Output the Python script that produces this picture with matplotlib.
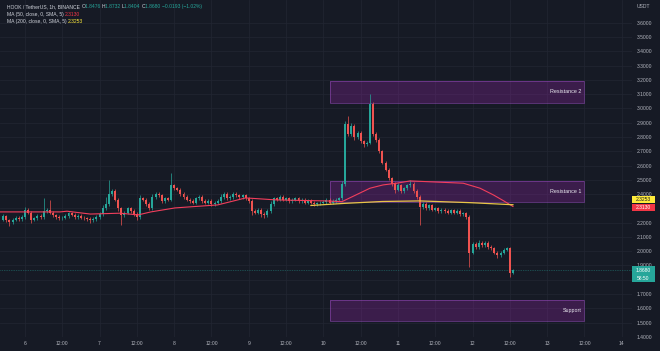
import matplotlib
matplotlib.use("Agg")
import matplotlib.pyplot as plt
from matplotlib.patches import Rectangle
from matplotlib.transforms import IdentityTransform
import numpy as np

# ---------------- data ----------------
W, H = 660, 351
start_hour = -7          # hours relative to day 6, 00:00 (1h candles)
first_open = 2.22
closes = [
    2.245, 2.215, 2.205, 2.22, 2.235, 2.225, 2.24,                     # day 5 17:00-23:00
    2.29, 2.27, 2.22, 2.23, 2.245, 2.24, 2.28, 2.29, 2.27, 2.25, 2.24, 2.23,
    2.235, 2.245, 2.265, 2.255, 2.24, 2.245, 2.235, 2.23, 2.225, 2.215, 2.225, 2.24,   # day 6
    2.26, 2.30, 2.33, 2.40, 2.42, 2.36, 2.30, 2.25, 2.27, 2.30, 2.28, 2.26,
    2.24, 2.37, 2.36, 2.33, 2.30, 2.38, 2.40, 2.39, 2.35, 2.37, 2.36, 2.46,            # day 7
    2.44, 2.43, 2.40, 2.38, 2.36, 2.35, 2.34, 2.37, 2.38, 2.35, 2.34, 2.35,
    2.33, 2.34, 2.35, 2.38, 2.40, 2.37, 2.38, 2.40, 2.39, 2.38, 2.39, 2.37,            # day 8
    2.35, 2.28, 2.27, 2.29, 2.26, 2.25, 2.28, 2.33, 2.37, 2.36, 2.38, 2.36,
    2.37, 2.35, 2.36, 2.37, 2.35, 2.36, 2.34, 2.35, 2.34, 2.33, 2.335, 2.34,           # day 9
    2.345, 2.36, 2.34, 2.35, 2.36, 2.37, 2.47, 2.89, 2.82, 2.88, 2.80, 2.83,
    2.77, 2.75, 2.76, 3.03, 2.82, 2.78, 2.70, 2.62, 2.57, 2.51, 2.47, 2.43,            # day 10
    2.46, 2.42, 2.44, 2.46, 2.47, 2.42, 2.38, 2.31, 2.33, 2.30, 2.32, 2.29,
    2.30, 2.28, 2.29, 2.28, 2.27, 2.285, 2.27, 2.28, 2.26, 2.265, 2.24, 1.99,          # day 11
    2.05, 2.03, 2.06, 2.04, 2.06, 2.03, 2.02, 1.99, 1.97, 1.99, 2.01, 2.02,
    1.8476, 1.868,                                                       # day 12
]
wick_default = 0.012
upper_wicks = {-6: 0.01, 0: 0.02, 6: 0.09, 8: 0.07, 25: 0.02, 26: 0.05, 27: 0.10,
               37: 0.02, 41: 0.02, 47: 0.09, 63: 0.02, 79: 0.02, 102: 0.02, 103: 0.02,
               104: 0.06, 105: 0.02, 111: 0.07, 120: 0.02, 124: 0.03, 146: 0.02,
               157: 0.0052}
lower_wicks = {-5: 0.03, 2: 0.02, 21: 0.015, 30: 0.02, 31: 0.07, 36: 0.02, 73: 0.03,
               76: 0.02, 77: 0.02, 106: 0.02, 109: 0.02, 119: 0.02, 127: 0.13,
               143: 0.10, 152: 0.02, 156: 0.025, 157: 0.0072}

ma50_hours = [-8, 11.3, 13.5, 21, 30.6, 36.4, 40.5, 48.3, 62, 71, 80.8, 96.8, 102,
              111, 115.2, 119.6, 123.9, 141, 146.4, 150.7, 153.9, 157]
ma50_vals = [2.275, 2.275, 2.28, 2.26, 2.266, 2.254, 2.275, 2.303, 2.324, 2.373, 2.359,
             2.352, 2.347, 2.441, 2.464, 2.476, 2.492, 2.476, 2.441, 2.394, 2.354, 2.313]
ma200_hours = [92, 103, 115, 127, 143, 157]
ma200_vals = [2.32, 2.335, 2.348, 2.352, 2.34, 2.3253]

zone_names = ["Resistance 2", "Resistance 1", "Support"]
zone_low = [3.04, 2.343, 1.512]
zone_high = [3.19, 2.492, 1.655]
zone_start, zone_end = 98, 180

price_ticks = [round(1.4 + 0.1 * i, 1) for i in range(23)]
hidden_price_labels = [1.8, 2.3]   # covered by the value badges on the price scale
day_numbers = ["6", "7", "8", "9", "10", "11", "12", "13", "14"]
header_pieces = [("HOOK / TetherUS, 1h, BINANCE ", "txt"), ("O", "txt"), ("1.8476 ", "up"),
                 ("H", "txt"), ("1.8732 ", "up"), ("L", "txt"), ("1.8404 ", "up"),
                 ("C", "txt"), ("1.8680 ", "up"), ("\u22120.0193 (\u22121.02%)", "up")]
ma50_title = "MA (50, close, 0, SMA, 5) "
ma200_title = "MA (200, close, 0, SMA, 5) "
countdown = "58:50"

# ---------------- style ----------------
BG = "#161a25"
GRID = "#222633"
TXT = "#b2b5be"
UP = "#26a69a"
DOWN = "#ef5350"
MA50_C = "#f23e5c"
MA200_C = "#e8c547"
YEL = "#ffeb3b"
FONT = "Liberation Sans"
FS = 3.6

plt.rcParams['font.family'] = [FONT, 'DejaVu Sans']

fig = plt.figure(figsize=(W / 100, H / 100), dpi=100, facecolor=BG)
ax = fig.add_axes([0, 14 / H, 632 / W, 337 / H], facecolor=BG)

closes_a = np.array(closes)
n = len(closes_a)
hours = np.arange(start_hour, start_hour + n)
opens_a = np.concatenate([[first_open], closes_a[:-1]])
highs = np.array([max(o, c) + upper_wicks.get(h, wick_default)
                  for h, o, c in zip(hours, opens_a, closes_a)])
lows = np.array([min(o, c) - lower_wicks.get(h, wick_default)
                 for h, o, c in zip(hours, opens_a, closes_a)])
colors = np.where(closes_a >= opens_a, UP, DOWN)

# zones
for name, lo, hi in zip(zone_names, zone_low, zone_high):
    ax.add_patch(Rectangle((zone_start, lo), zone_end - zone_start, hi - lo,
                           facecolor="#9c27b0", alpha=0.28, edgecolor="none", zorder=1))
    ax.add_patch(Rectangle((zone_start, lo), zone_end - zone_start, hi - lo,
                           facecolor="none", edgecolor="#9c4fc4", lw=0.5, alpha=0.7, zorder=1))
    ax.text(zone_end - 0.9, (lo + hi) / 2, name, ha="right", va="center",
            color="#ececf2", fontsize=FS + 0.3, zorder=6)

ax.vlines(hours, lows, highs, colors=colors, lw=0.5, zorder=3)
ax.bar(hours, np.maximum(np.abs(closes_a - opens_a), 0.004),
       bottom=np.minimum(opens_a, closes_a), width=0.64, color=colors, lw=0, zorder=4)

ax.plot(ma50_hours, ma50_vals, color=MA50_C, lw=0.8, zorder=5)
ax.plot(ma200_hours, ma200_vals, color=MA200_C, lw=0.9, zorder=5)

ax.axhline(closes_a[-1], color=UP, lw=0.5, ls=(0, (1, 1.5)), alpha=0.7, zorder=2)

ax.set_xlim(-8.04, 195.3)
ax.set_ylim(1.399, 3.759)

xt = list(range(0, 193, 12))
ax.set_xticks(xt)
ax.set_xticklabels([day_numbers[h // 24] if h % 24 == 0 else "12:00" for h in xt])
ax.set_yticks(price_ticks)
ax.set_yticklabels(["" if p in hidden_price_labels else f"{p:.4f}" for p in price_ticks])
ax.yaxis.tick_right()
ax.tick_params(axis="x", length=0, pad=2.6, labelsize=FS, colors=TXT)
ax.tick_params(axis="y", length=0, pad=3.6, labelsize=FS, colors=TXT)
for lab in ax.get_xticklabels() + ax.get_yticklabels():
    lab.set_clip_on(False)
ax.grid(True, color=GRID, lw=0.5, zorder=0)
ax.set_axisbelow(True)
for s in ax.spines.values():
    s.set_visible(False)

fig.text(637 / W, 1 - 7 / H, "USDT", color=TXT, fontsize=FS, ha="left", va="center")

# right-side value labels (display pixel coords)
def ypix(price):
    return ax.transData.transform((0, price))[1]

def label_box(price, text_lines, face, tcolor, dy=0.0, h=7.0):
    yc = ypix(price) + dy
    total = h * len(text_lines)
    fig.add_artist(Rectangle((632, yc - total / 2), 23, total, transform=IdentityTransform(),
                             facecolor=face, edgecolor="none", zorder=10))
    for i, t in enumerate(text_lines):
        yy = yc + total / 2 - h * (i + 0.5)
        fig.text(643.5 / W, yy / H, t, ha="center", va="center", color=tcolor,
                 fontsize=FS, zorder=11)

label_box(ma200_vals[-1], [f"{ma200_vals[-1]:.4f}"], YEL, "#131722", dy=5.6)
label_box(ma50_vals[-1], [f"{ma50_vals[-1]:.4f}"], "#f23645", "#ffffff", dy=-1.0)
label_box(closes_a[-1], [f"{closes_a[-1]:.4f}", countdown], UP, "#ffffff", dy=-4.0, h=8.0)

# header legend
renderer = fig.canvas.get_renderer()
def draw_pieces(pieces, x, y):
    for text, role in pieces:
        col = {"txt": "#d1d4dc", "up": UP, "red": "#f23645", "yel": YEL}[role]
        t = fig.text(x / W, 1 - y / H, text, color=col, fontsize=FS, ha="left", va="center")
        bb = t.get_window_extent(renderer=renderer)
        x += bb.width

draw_pieces(header_pieces, 7, 6.7)
draw_pieces([(ma50_title, "txt"), (f"{ma50_vals[-1]:.4f}", "red")], 7, 14.3)
draw_pieces([(ma200_title, "txt"), (f"{ma200_vals[-1]:.4f}", "yel")], 7, 21.7)

fig.savefig("out.png", dpi=100, facecolor=BG)
